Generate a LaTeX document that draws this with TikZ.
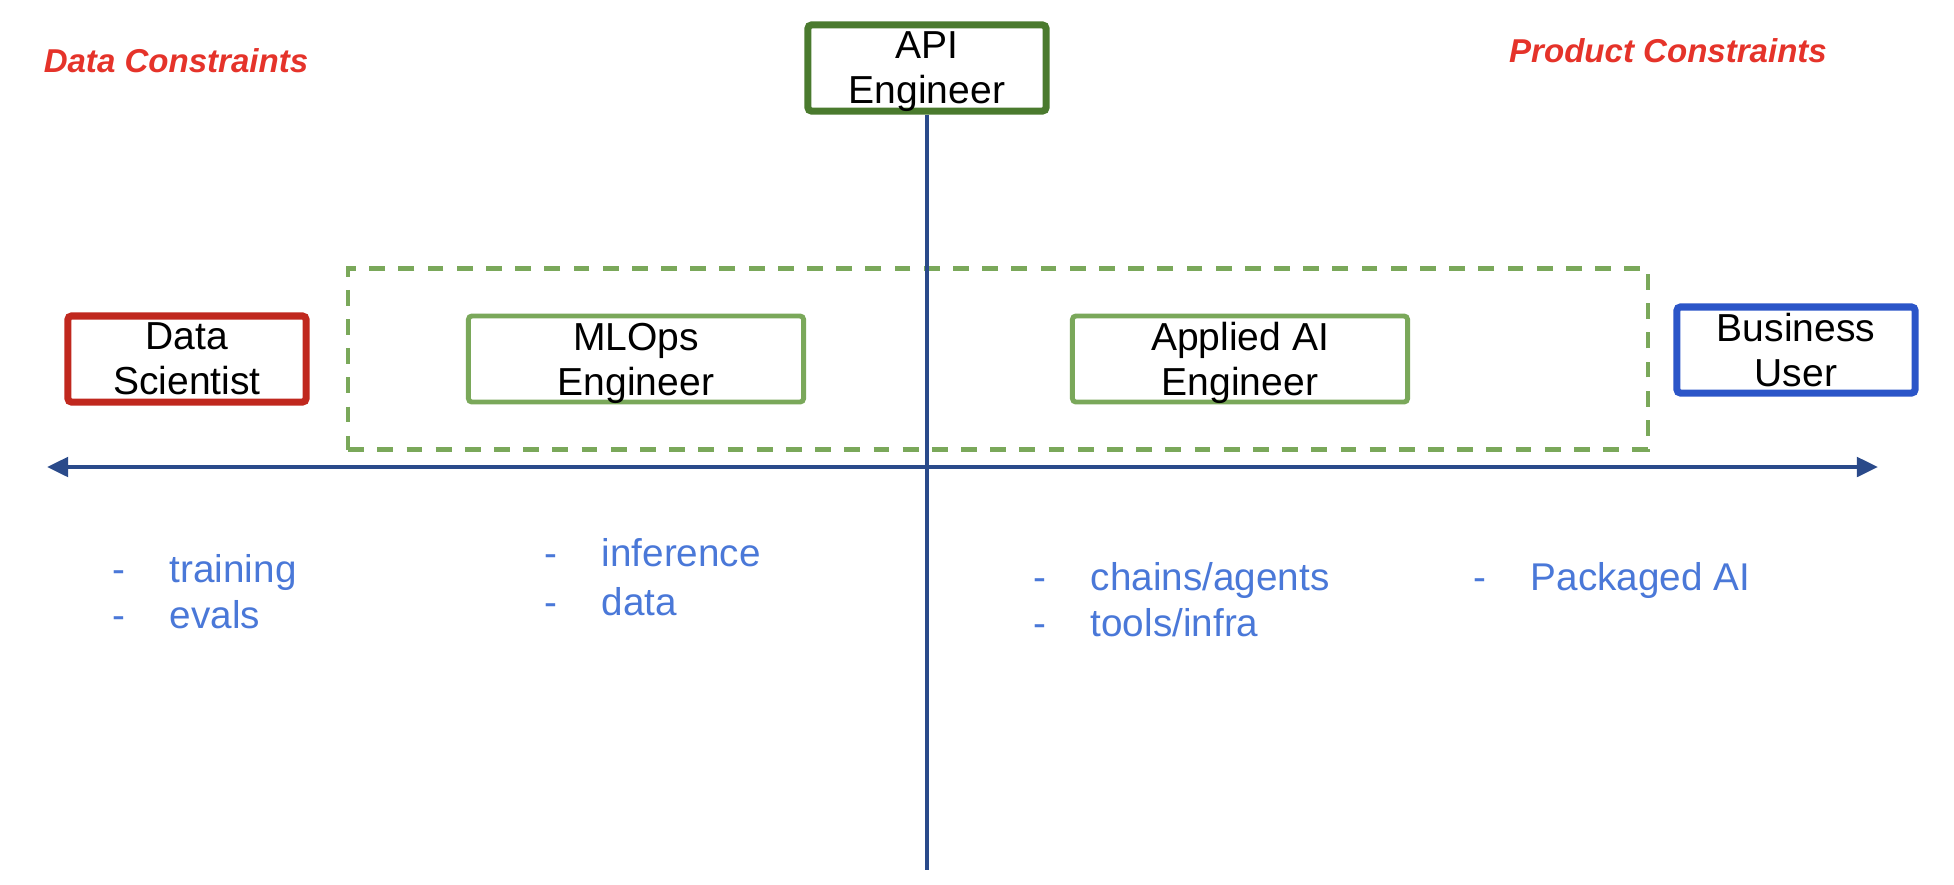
\documentclass[tikz,border=0pt]{standalone}
\usepackage{fontspec}
\setmainfont{Liberation Sans}
\usepackage{xcolor}
\usetikzlibrary{arrows.meta}
\definecolor{ctred}{HTML}{E5332A}
\definecolor{dsred}{HTML}{C0281E}
\definecolor{apigreen}{HTML}{4A7A2E}
\definecolor{litegreen}{HTML}{7AA85A}
\definecolor{bizblue}{HTML}{2B55C8}
\definecolor{axisblue}{HTML}{2A4A8A}
\definecolor{listblue}{HTML}{4A78D8}
\tikzset{
 rolebox/.style={draw, rounded corners=1pt, line width=2pt, align=center, inner sep=0,
   text depth=0pt, font=\fontsize{11.1}{12.8}\selectfont, minimum width=2.38cm, minimum height=0.86cm},
 opsbox/.style={rolebox, draw=litegreen, line width=1.4pt, minimum width=3.35cm},
 constraint/.style={text=ctred, font=\fontsize{9.4}{11}\selectfont\bfseries\itshape},
 listitem/.style={text=listblue, anchor=west, inner sep=0, text height=8pt, text depth=2.3pt,
   font=\fontsize{11}{13}\selectfont},
 axis/.style={axisblue, line width=1.15pt}
}
\begin{document}
\begin{tikzpicture}[x=0.01cm, y=-0.01cm]
\useasboundingbox (0,0) rectangle (1954,884);
\node[constraint] (dc) at (176,61) {Data Constraints};
\node[constraint] (pc) at (1668,51) {Product Constraints};
% roles
\node[rolebox, draw=apigreen] (api) at (927,68) {API\\Engineer};
\node[rolebox, draw=dsred] (ds) at (187,359) {Data\\Scientist};
\node[opsbox] (mlops) at (636,359) {MLOps\\Engineer};
\node[opsbox] (aai) at (1240,359) {Applied AI\\Engineer};
\node[rolebox, draw=bizblue] (biz) at (1796,350) {Business\\User};
\node[draw=litegreen, line width=1.2pt, dash pattern=on 4.5pt off 3.8pt,
  minimum width=12.99cm, minimum height=1.81cm] (grp) at (998,359) {};
% axes
\coordinate (xl) at (47,467);
\coordinate (xr) at (1878,467);
\coordinate (yb) at (927,870);
\draw[axis] (api.south) -- (yb);
\draw[axis, {Triangle[length=6pt,width=5.5pt]}-{Triangle[length=6pt,width=5.5pt]}] (xl) -- (xr);
% tasks
\foreach \x/\y/\txt [count=\i] in {112/572/training, 112/618/evals, 544/556/inference, 544/605/data,
  1033/580/{chains/agents}, 1033/626/{tools/infra}, 1473/580/{Packaged AI}} {
 \node[listitem] (d\i) at (\x,\y) {-};
 \node[listitem] (t\i) at (\x+57,\y) {\txt};
}
\end{tikzpicture}
\end{document}
